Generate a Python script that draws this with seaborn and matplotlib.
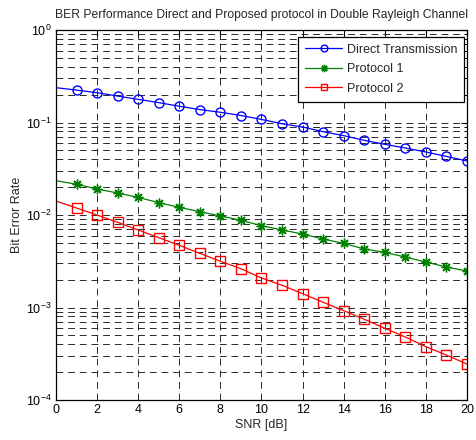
import numpy as np
import pandas as pd
import matplotlib
matplotlib.use("Agg")
import matplotlib.pyplot as plt
import seaborn as sns
from matplotlib.ticker import LogLocator, MultipleLocator, NullFormatter

# SNR axis and BER values
snr = list(range(0, 21))
ber_direct = [0.238, 0.224, 0.210, 0.193, 0.178, 0.164, 0.150, 0.138, 0.129, 0.119, 0.108,
              0.097, 0.0894, 0.0796, 0.0721, 0.0642, 0.0581, 0.053, 0.048, 0.043, 0.0384]
ber_p1 = [0.0235, 0.0215, 0.0191, 0.0173, 0.0155, 0.0136, 0.0121, 0.01086, 0.00976, 0.00877, 0.00767,
          0.00689, 0.00623, 0.0055, 0.00494, 0.00429, 0.00395, 0.00351, 0.0031, 0.00274, 0.00248]
ber_p2 = [0.01417, 0.0119, 0.0100, 0.00833, 0.00689, 0.00569, 0.0047, 0.00385, 0.00316, 0.00263, 0.00208,
          0.00174, 0.00141, 0.00114, 0.000924, 0.000746, 0.000596, 0.00048, 0.000377, 0.000306, 0.000245]
labels = ["Direct Transmission", "Protocol 1", "Protocol 2"]

sns.set_theme(style="white")
plt.rcParams['font.family'] = ['Liberation Sans', 'DejaVu Sans']
plt.rcParams['font.size'] = 9
plt.rcParams['axes.unicode_minus'] = False

df = pd.DataFrame({"snr": snr * 3,
                   "ber": ber_direct + ber_p1 + ber_p2,
                   "series": [labels[0]] * 21 + [labels[1]] * 21 + [labels[2]] * 21})

fig = plt.figure(figsize=(4.76, 4.40), dpi=100)
ax = fig.add_axes([0.1176, 0.0909, 0.8634, 0.8409])

# MATLAB-like asterisk for protocol 1
styles = {labels[0]: ("blue", "o", 6.5),
          labels[1]: ("green", (8, 2, 0), 7),
          labels[2]: ("red", "s", 6.5)}
for name, (col, mk, ms) in styles.items():
    sub = df[df["series"] == name]
    sns.lineplot(data=sub, x="snr", y="ber", ax=ax, color=col, lw=0.9,
                 marker=mk, markersize=ms, markevery=slice(1, None),
                 mfc="none", mec=col, mew=1.0, label=name)

ax.set_yscale("log")
ax.set_xlim(0, 20)
ax.set_ylim(1e-4, 1)
ax.xaxis.set_major_locator(MultipleLocator(2))
ax.yaxis.set_major_locator(LogLocator(base=10, numticks=10))
ax.yaxis.set_minor_locator(LogLocator(base=10, subs=np.arange(2, 10), numticks=20))
ax.yaxis.set_minor_formatter(NullFormatter())

grid_kw = dict(color="#2a2a2a", linestyle=(0, (7, 5)), linewidth=0.7)
ax.grid(True, which="major", axis="both", **grid_kw)
ax.grid(True, which="minor", axis="y", **grid_kw)
ax.tick_params(which="both", direction="in", top=True, right=True,
               labelsize=9, colors="black")
ax.tick_params(which="major", length=4, width=0.8, pad=3)
ax.tick_params(which="minor", length=2, width=0.6)
for sp in ax.spines.values():
    sp.set_color("black")
    sp.set_linewidth(0.9)

ax.set_xlabel("SNR [dB]", fontsize=9, labelpad=2)
ax.set_ylabel("Bit Error Rate", fontsize=9, labelpad=2)
ax.set_title("BER Performance Direct and Proposed protocol in Double Rayleigh Channel",
             fontsize=8.75, pad=9)

leg = ax.legend(loc="upper right", bbox_to_anchor=(464 / 476, 1 - 37 / 440),
                bbox_transform=fig.transFigure, borderaxespad=0,
                fontsize=9, frameon=True, fancybox=False, markerscale=0.75,
                edgecolor="black", framealpha=1, borderpad=0.55, labelspacing=0.6,
                handlelength=3.0, handletextpad=0.35)
leg.get_frame().set_linewidth(0.9)

fig.savefig("out.png", dpi=100)
